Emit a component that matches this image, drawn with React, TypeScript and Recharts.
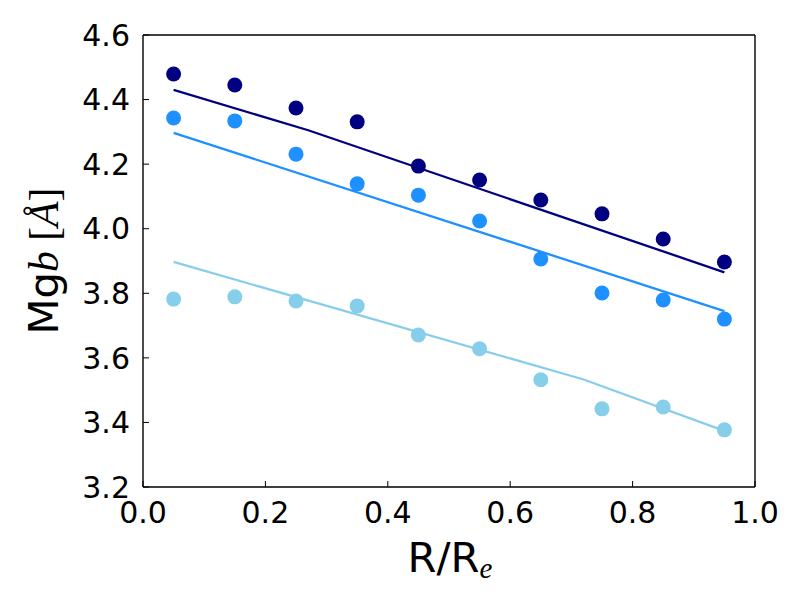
import React from 'react';
import { ScatterChart, Scatter, XAxis, YAxis, Label } from 'recharts';

const radii = [0.05, 0.15, 0.25, 0.35, 0.45, 0.55, 0.65, 0.75, 0.85, 0.95];
const mgbHigh = [4.479, 4.445, 4.374, 4.331, 4.194, 4.151, 4.089, 4.046, 3.968, 3.897];
const mgbMid = [4.343, 4.334, 4.231, 4.139, 4.104, 4.024, 3.906, 3.801, 3.779, 3.72];
const mgbLow = [3.782, 3.789, 3.776, 3.761, 3.671, 3.628, 3.532, 3.442, 3.448, 3.377];

const fitHighR = [0.05, 0.27, 0.95];
const fitHigh = [4.43, 4.305, 3.865];
const fitMidR = [0.05, 0.95];
const fitMid = [4.297, 3.745];
const fitLowR = [0.05, 0.72, 0.95];
const fitLow = [3.897, 3.533, 3.374];

const xTicks = [0, 0.2, 0.4, 0.6, 0.8, 1.0];
const yTicks = [3.2, 3.4, 3.6, 3.8, 4.0, 4.2, 4.4, 4.6];

const NAVY = '#000080';
const DODGER = '#1e90ff';
const SKY = '#87ceeb';

const zip = (xs: number[], ys: number[]) => xs.map((x, i) => ({ x, y: ys[i] }));

const dotShape = (color: string) => (props: any) => (
  <circle cx={props.cx} cy={props.cy} r={7.5} fill={color} stroke="none" />
);
const noShape = () => <g />;

const tickStyle = { fontSize: 30, fill: '#000', fontFamily: 'DejaVu Sans' };
const lineStyle = { stroke: '#000', strokeWidth: 1 };
const frameStyle = { stroke: '#000', strokeWidth: 1.4 };
const fmt = (v: number) => v.toFixed(1);

const XLabel = () => (
  <text x={450} y={572} textAnchor="middle" fill="#000">
    <tspan fontFamily="DejaVu Sans" fontSize={41.7}>R/R</tspan>
    <tspan fontFamily="Liberation Serif" fontStyle="italic" fontSize={29} dy={6}>e</tspan>
  </text>
);

const YLabel = () => (
  <text x={58} y={261} textAnchor="middle" transform="rotate(-90 58 261)" fill="#000">
    <tspan fontFamily="DejaVu Sans" fontSize={41.7}>Mg</tspan>
    <tspan fontFamily="Liberation Serif" fontStyle="italic" fontSize={41.7}>b</tspan>
    <tspan fontFamily="Liberation Serif" fontSize={41.7}> [</tspan>
    <tspan fontFamily="Liberation Serif" fontStyle="italic" fontSize={41.7}>Å</tspan>
    <tspan fontFamily="Liberation Serif" fontSize={41.7}>]</tspan>
  </text>
);

export default function App() {
  return (
    <div style={{ position: 'absolute', left: 0, top: 0, width: 800, height: 600, background: '#fff' }}>
      <ScatterChart width={800} height={600} margin={{ top: 34, right: 44, bottom: 0, left: 0 }}>
        <XAxis
          type="number"
          dataKey="x"
          domain={[0, 1]}
          ticks={xTicks}
          tickFormatter={fmt}
          height={113}
          tickSize={-6}
          tickMargin={21}
          tick={tickStyle}
          tickLine={lineStyle}
          axisLine={frameStyle}
          interval={0}
        >
          <Label content={() => <XLabel />} />
        </XAxis>
        <XAxis
          xAxisId="top"
          orientation="top"
          type="number"
          dataKey="x"
          domain={[0, 1]}
          ticks={xTicks}
          height={1}
          tickSize={-6}
          tickMargin={0}
          tick={false}
          tickLine={lineStyle}
          axisLine={frameStyle}
          interval={0}
        />
        <YAxis
          type="number"
          dataKey="y"
          domain={[3.2, 4.6]}
          ticks={yTicks}
          tickFormatter={fmt}
          width={143}
          tickSize={-6}
          tickMargin={19}
          tick={tickStyle}
          tickLine={lineStyle}
          axisLine={frameStyle}
          interval={0}
        >
          <Label content={() => <YLabel />} />
        </YAxis>
        <YAxis
          yAxisId="right"
          orientation="right"
          type="number"
          dataKey="y"
          domain={[3.2, 4.6]}
          ticks={yTicks}
          width={1}
          tickSize={-6}
          tickMargin={0}
          tick={false}
          tickLine={lineStyle}
          axisLine={frameStyle}
          interval={0}
        />
        <Scatter xAxisId="top" yAxisId="right" data={zip(radii, mgbLow)} shape={noShape} isAnimationActive={false} />
        <Scatter data={zip(fitHighR, fitHigh)} line={{ stroke: NAVY, strokeWidth: 2.3 }} shape={noShape} isAnimationActive={false} />
        <Scatter data={zip(fitMidR, fitMid)} line={{ stroke: DODGER, strokeWidth: 2.3 }} shape={noShape} isAnimationActive={false} />
        <Scatter data={zip(fitLowR, fitLow)} line={{ stroke: SKY, strokeWidth: 2.3 }} shape={noShape} isAnimationActive={false} />
        <Scatter data={zip(radii, mgbHigh)} shape={dotShape(NAVY)} isAnimationActive={false} />
        <Scatter data={zip(radii, mgbMid)} shape={dotShape(DODGER)} isAnimationActive={false} />
        <Scatter data={zip(radii, mgbLow)} shape={dotShape(SKY)} isAnimationActive={false} />
      </ScatterChart>
    </div>
  );
}
